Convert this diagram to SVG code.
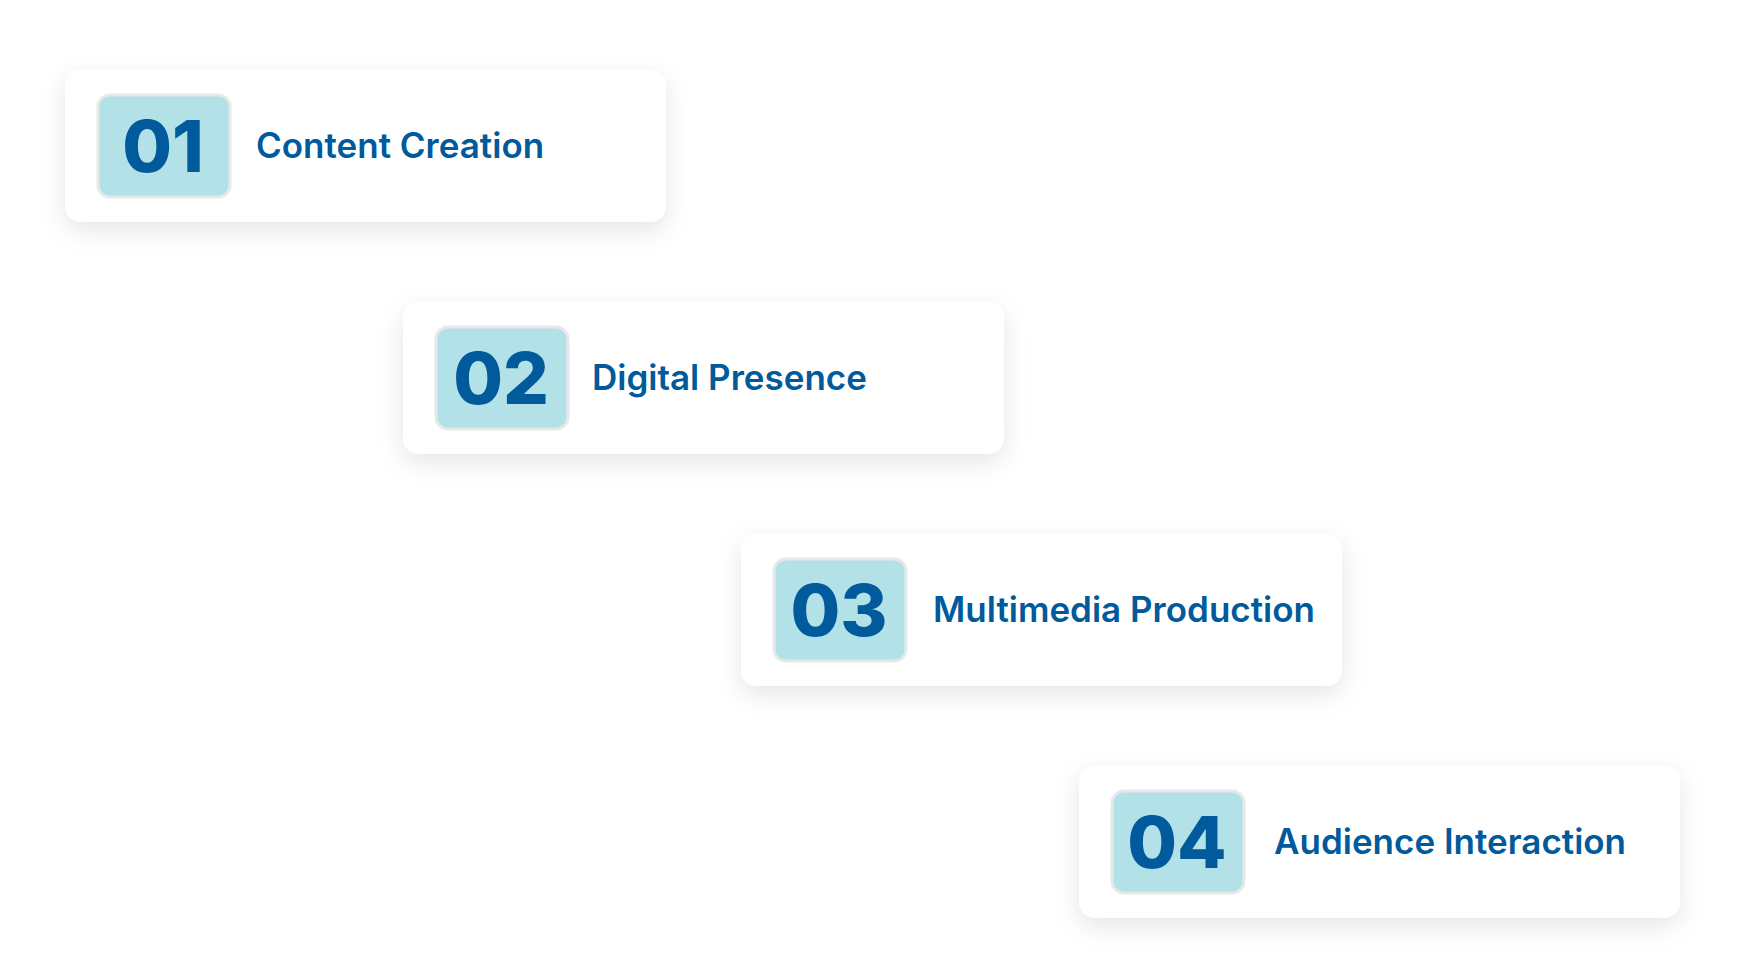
<svg xmlns="http://www.w3.org/2000/svg" width="1742" height="980" viewBox="0 0 1742 980">
<defs>
<filter id="sh" x="-20%" y="-40%" width="140%" height="190%">
<feDropShadow dx="0" dy="8" stdDeviation="12" flood-color="#000" flood-opacity="0.10"/>
</filter>
<style>
.card{fill:#fff;filter:url(#sh)}
.box{fill:#b2e1e7;stroke:#e6e9ea;stroke-width:3}
.num{font-family:Inter,"Liberation Sans",sans-serif;font-weight:800;font-size:72px;fill:#005a9b;text-anchor:middle}
.lbl{font-family:Inter,"Liberation Sans",sans-serif;font-weight:600;font-size:35px;fill:#005a9b}
</style>
</defs>
<rect width="1742" height="980" fill="#fff"/>
<g id="connectors"></g>
<g id="node1">
<rect class="card" x="65" y="70" width="601" height="152" rx="16"/>
<rect class="box" x="98" y="95" width="132" height="102" rx="12"/>
<text class="num" x="163" y="172">01</text>
<text class="lbl" x="256" y="158">Content Creation</text>
</g>
<g id="node2">
<rect class="card" x="403" y="302" width="601" height="152" rx="16"/>
<rect class="box" x="436" y="327" width="132" height="102" rx="12"/>
<text class="num" x="501" y="404">02</text>
<text class="lbl" x="592" y="390">Digital Presence</text>
</g>
<g id="node3">
<rect class="card" x="741" y="534" width="601" height="152" rx="16"/>
<rect class="box" x="774" y="559" width="132" height="102" rx="12"/>
<text class="num" x="839" y="636">03</text>
<text class="lbl" x="933" y="622">Multimedia Production</text>
</g>
<g id="node4">
<rect class="card" x="1079" y="766" width="601" height="152" rx="16"/>
<rect class="box" x="1112" y="791" width="132" height="102" rx="12"/>
<text class="num" x="1177" y="868">04</text>
<text class="lbl" x="1274" y="854">Audience Interaction</text>
</g>
</svg>
